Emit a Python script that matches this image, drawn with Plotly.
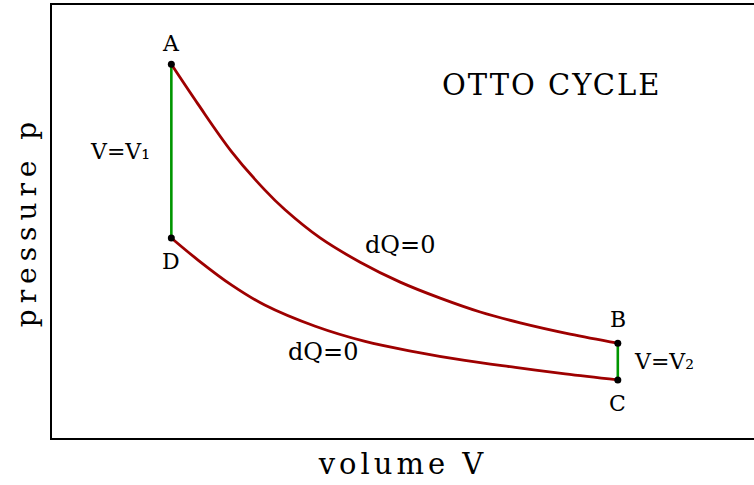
import plotly.graph_objects as go

# Adiabat (dQ=0) curves, in axis units (V, p)
upper_V = [1.70, 2.08, 2.56, 3.03, 3.32, 3.82, 4.39, 4.96, 5.53, 6.10, 6.67, 7.38, 8.06]
upper_p = [8.63, 7.71, 6.61, 5.73, 5.27, 4.62, 4.06, 3.60, 3.23, 2.91, 2.66, 2.40, 2.19]
lower_V = [1.70, 2.08, 2.56, 3.03, 3.75, 4.46, 5.17, 5.88, 6.60, 7.31, 8.06]
lower_p = [4.62, 4.11, 3.53, 3.07, 2.58, 2.23, 1.99, 1.79, 1.63, 1.48, 1.34]

point_names = ["A", "B", "C", "D"]

RED = "#9e0000"
GREEN = "#009600"
FONT = "DejaVu Serif"

V1 = upper_V[0]
V2 = upper_V[-1]
pA, pB = upper_p[0], upper_p[-1]
pD, pC = lower_p[0], lower_p[-1]

fig = go.Figure()

# isochores (green)
fig.add_trace(go.Scatter(x=[V1, V1], y=[pD, pA], mode="lines",
                         line=dict(color=GREEN, width=2.6), hoverinfo="skip"))
fig.add_trace(go.Scatter(x=[V2, V2], y=[pC, pB], mode="lines",
                         line=dict(color=GREEN, width=2.6), hoverinfo="skip"))
# adiabats (red)
fig.add_trace(go.Scatter(x=upper_V, y=upper_p, mode="lines",
                         line=dict(color=RED, width=2.8, shape="spline", smoothing=1.0)))
fig.add_trace(go.Scatter(x=lower_V, y=lower_p, mode="lines",
                         line=dict(color=RED, width=2.8, shape="spline", smoothing=1.0)))
# state points
fig.add_trace(go.Scatter(x=[V1, V2, V2, V1], y=[pA, pB, pC, pD], mode="markers",
                         marker=dict(color="black", size=7)))

lab = dict(family=FONT, size=22, color="black")
ann = []
shifts = {"A": 21, "B": 24, "C": -24, "D": -24}
for name, x, y in zip(point_names, [V1, V2, V2, V1], [pA, pB, pC, pD]):
    ann.append(dict(x=x, y=y, text=name, showarrow=False, yshift=shifts[name],
                    xanchor="center", yanchor="middle", font=lab))
ann += [
    dict(x=V1, y=6.62, text="V=V\u2081", showarrow=False, xanchor="right",
         xshift=-19, yanchor="middle", font=lab),
    dict(x=V2, y=(pB + pC) / 2, text="V=V\u2082", showarrow=False, xanchor="left",
         xshift=14, yanchor="middle", font=lab),
    dict(x=4.957, y=4.457, text="dQ=0", showarrow=False,
         font=dict(family=FONT, size=24, color="black")),
    dict(x=3.86, y=1.986, text="dQ=0", showarrow=False,
         font=dict(family=FONT, size=24, color="black")),
    dict(x=7.12, y=8.15, text="OTTO CYCLE", showarrow=False,
         font=dict(family=FONT, size=29, color="black")),
]

fig.update_layout(
    width=754, height=485,
    margin=dict(l=52, r=0, t=5, b=47),
    paper_bgcolor="white", plot_bgcolor="white",
    showlegend=False,
    hovermode=False,
    annotations=ann,
    xaxis=dict(range=[0, 10], showgrid=False, zeroline=False, showticklabels=False,
               ticks="", showline=True, mirror=True, linecolor="black", linewidth=2,
               title=dict(text="volume V", standoff=15,
                          font=dict(family=FONT, size=29, color="black"))),
    yaxis=dict(range=[0, 10], showgrid=False, zeroline=False, showticklabels=False,
               ticks="", showline=True, mirror=False, linecolor="black", linewidth=2,
               title=dict(text="pressure p", standoff=5,
                          font=dict(family=FONT, size=28, color="black"))),
)

# remove the page's default body margin so the figure sits at the window origin,
# and widen the letter spacing of the titles like the reference lettering
post = """
document.body.style.margin = '0';
var gd = document.getElementById('{plot_id}');
function fixSpacing(){
  var sp = {'volume V': '4px', 'pressure p': '6px', 'OTTO CYCLE': '2px'};
  gd.querySelectorAll('text').forEach(function(t){
    var s = sp[t.textContent];
    if (s) { t.style.letterSpacing = s; }
  });
}
fixSpacing();
gd.on('plotly_afterplot', fixSpacing);
"""

fig.write_html("out.html", post_script=post, config={"displayModeBar": False})
